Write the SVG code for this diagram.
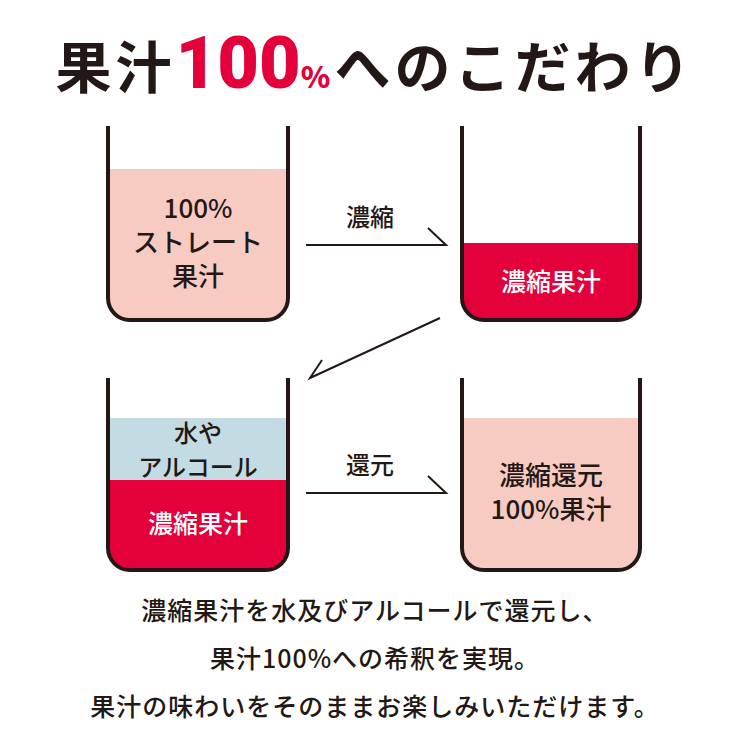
<svg xmlns="http://www.w3.org/2000/svg" width="750" height="750" viewBox="0 0 750 750">
<style>
.t{font-family:"Noto Sans CJK JP","Noto Sans",sans-serif;fill:#231815}
.b{fill:none;stroke:#231815;stroke-width:4}
.c{fill:none;stroke:#231815;stroke-width:2}
</style>
<rect width="750" height="750" fill="#fff"/>
<g id="title">
<text x="375" y="88" text-anchor="middle" class="t" font-size="56" font-weight="700" letter-spacing="4">果汁<tspan fill="#e4003a" font-size="72" font-family="Roboto,sans-serif" font-weight="900" letter-spacing="0">100</tspan><tspan fill="#e4003a" font-size="30" font-weight="900">%</tspan>へのこだわり</text>
</g>
<g id="beaker1">
<path d="M108 169H288V298a22 22 0 0 1-22 22H130a22 22 0 0 1-22-22Z" fill="#f8cbc2"/>
<path class="b" d="M108 126V298a22 22 0 0 0 22 22H266a22 22 0 0 0 22-22V126"/>
<text class="t" font-size="26" font-weight="500" text-anchor="middle"><tspan x="198" y="218">100%</tspan><tspan x="198" y="252">ストレート</tspan><tspan x="198" y="286">果汁</tspan></text>
</g>
<g id="beaker2">
<path d="M462 243H640V298a22 22 0 0 1-22 22H484a22 22 0 0 1-22-22Z" fill="#e4003a"/>
<path class="b" d="M462 126V298a22 22 0 0 0 22 22H618a22 22 0 0 0 22-22V126"/>
<text class="t" x="551" y="291" font-size="25" font-weight="500" text-anchor="middle" style="fill:#fff">濃縮果汁</text>
</g>
<g id="beaker3">
<rect x="108" y="418" width="180" height="62" fill="#c3dbe2"/>
<path d="M108 480H288V548a22 22 0 0 1-22 22H130a22 22 0 0 1-22-22Z" fill="#e4003a"/>
<path class="b" d="M108 378V548a22 22 0 0 0 22 22H266a22 22 0 0 0 22-22V378"/>
<text class="t" x="198" y="442" font-size="24" font-weight="500" text-anchor="middle">水や</text>
<text class="t" x="198" y="476" font-size="24" font-weight="500" text-anchor="middle">アルコール</text>
<text x="198" y="533" font-size="25" font-weight="500" text-anchor="middle" class="t" style="fill:#fff">濃縮果汁</text>
</g>
<g id="beaker4">
<path d="M462 418H640V548a22 22 0 0 1-22 22H484a22 22 0 0 1-22-22Z" fill="#f8cbc2"/>
<path class="b" d="M462 378V548a22 22 0 0 0 22 22H618a22 22 0 0 0 22-22V378"/>
<text class="t" font-size="26" font-weight="500" text-anchor="middle"><tspan x="551" y="485">濃縮還元</tspan><tspan x="551" y="519">100%果汁</tspan></text>
</g>
<g id="connectors">
<path class="c" d="M306 245H446L428 228"/>
<path class="c" d="M440 318L310 378L322 360"/>
<path class="c" d="M306 493H446L428 476"/>
<text class="t" x="370" y="226" font-size="24" font-weight="500" text-anchor="middle">濃縮</text>
<text class="t" x="370" y="474" font-size="24" font-weight="500" text-anchor="middle">還元</text>
</g>
<g id="caption">
<text class="t" font-size="25" font-weight="500" text-anchor="middle" letter-spacing="1"><tspan x="375" y="620">濃縮果汁を水及びアルコールで還元し、</tspan><tspan x="375" y="668">果汁100%への希釈を実現。</tspan><tspan x="375" y="716">果汁の味わいをそのままお楽しみいただけます。</tspan></text>
</g>
</svg>
